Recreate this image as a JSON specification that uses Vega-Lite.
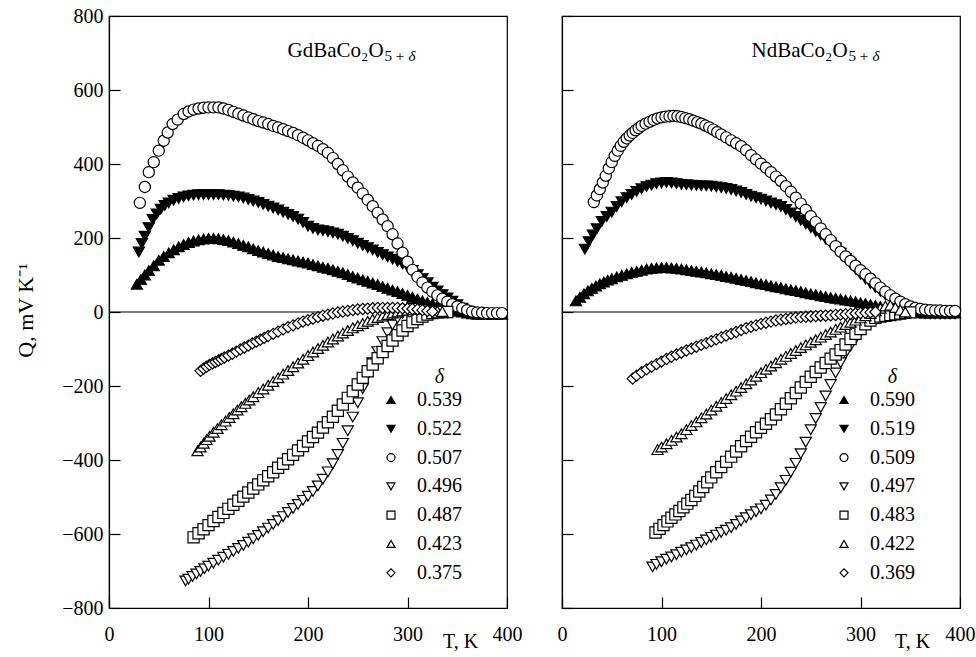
{
  "$schema": "https://vega.github.io/schema/vega-lite/v6.json",
  "background": "white",
  "padding": {"left": 13, "top": 5, "right": 5, "bottom": 5},
  "bounds": "flush",
  "spacing": 55,
  "config": {
    "font": "Liberation Serif",
    "view": {"stroke": "black", "strokeWidth": 1.2},
    "axis": {
      "grid": false, "domainColor": "black", "domainWidth": 1.2, "tickColor": "black", "tickWidth": 1.2, "tickSize": -11,
      "labelFont": "Liberation Serif", "labelFontSize": 20, "labelColor": "black", "labelFlush": false, "labelOverlap": false,
      "titleFont": "Liberation Serif", "titleFontSize": 20, "titleFontWeight": "normal", "titleColor": "black"
    },
    "axisX": {"labelPadding": 27},
    "axisY": {"labelPadding": 17},
    "legend": {
      "orient": "none", "legendX": 272, "legendY": 374, "title": null, "padding": 0,
      "labelFont": "Liberation Serif", "labelFontSize": 20, "labelColor": "black",
      "symbolStrokeWidth": 1.2, "symbolSize": 64, "rowPadding": 8.8, "labelOffset": 16
    }
  },
  "resolve": {"scale": {"shape": "independent", "fill": "independent", "stroke": "independent"}},
  "datasets": {
    "gd": [
      {"d":"0.539","T":28,"Q":75},{"d":"0.539","T":32,"Q":88},{"d":"0.539","T":36,"Q":100},{"d":"0.539","T":40,"Q":112},{"d":"0.539","T":45,"Q":125},{"d":"0.539","T":50,"Q":140},{"d":"0.539","T":55,"Q":150},{"d":"0.539","T":60,"Q":160},{"d":"0.539","T":65,"Q":168},{"d":"0.539","T":70,"Q":176},{"d":"0.539","T":75,"Q":182},{"d":"0.539","T":80,"Q":188},{"d":"0.539","T":85,"Q":192},{"d":"0.539","T":90,"Q":195},{"d":"0.539","T":95,"Q":197},{"d":"0.539","T":100,"Q":199},{"d":"0.539","T":105,"Q":199},{"d":"0.539","T":110,"Q":198},{"d":"0.539","T":115,"Q":196},{"d":"0.539","T":120,"Q":193},{"d":"0.539","T":125,"Q":189},{"d":"0.539","T":130,"Q":185},{"d":"0.539","T":135,"Q":180},{"d":"0.539","T":140,"Q":176},{"d":"0.539","T":145,"Q":171},{"d":"0.539","T":150,"Q":166},{"d":"0.539","T":155,"Q":162},{"d":"0.539","T":160,"Q":158},{"d":"0.539","T":165,"Q":154},{"d":"0.539","T":170,"Q":150},{"d":"0.539","T":175,"Q":147},{"d":"0.539","T":180,"Q":144},{"d":"0.539","T":185,"Q":141},{"d":"0.539","T":190,"Q":138},{"d":"0.539","T":195,"Q":135},{"d":"0.539","T":200,"Q":132},{"d":"0.539","T":205,"Q":128},{"d":"0.539","T":210,"Q":125},{"d":"0.539","T":215,"Q":121},{"d":"0.539","T":220,"Q":118},{"d":"0.539","T":225,"Q":114},{"d":"0.539","T":230,"Q":110},{"d":"0.539","T":235,"Q":106},{"d":"0.539","T":240,"Q":101},{"d":"0.539","T":245,"Q":96},{"d":"0.539","T":250,"Q":92},{"d":"0.539","T":255,"Q":87},{"d":"0.539","T":260,"Q":83},{"d":"0.539","T":265,"Q":78},{"d":"0.539","T":270,"Q":74},{"d":"0.539","T":275,"Q":69},{"d":"0.539","T":280,"Q":64},{"d":"0.539","T":285,"Q":59},{"d":"0.539","T":290,"Q":55},{"d":"0.539","T":295,"Q":50},{"d":"0.539","T":300,"Q":45},{"d":"0.539","T":305,"Q":40},{"d":"0.539","T":310,"Q":35},{"d":"0.539","T":315,"Q":30},{"d":"0.539","T":320,"Q":26},{"d":"0.539","T":325,"Q":22},{"d":"0.539","T":330,"Q":17},{"d":"0.539","T":335,"Q":13},{"d":"0.539","T":340,"Q":9},{"d":"0.539","T":345,"Q":5},{"d":"0.539","T":350,"Q":2},{"d":"0.539","T":355,"Q":0},{"d":"0.539","T":360,"Q":-3},{"d":"0.539","T":365,"Q":-5},{"d":"0.539","T":370,"Q":-6},{"d":"0.539","T":375,"Q":-6},{"d":"0.539","T":380,"Q":-6},{"d":"0.539","T":385,"Q":-6},{"d":"0.539","T":390,"Q":-6},{"d":"0.539","T":395,"Q":-6},
      {"d":"0.522","T":30,"Q":162},{"d":"0.522","T":33,"Q":185},{"d":"0.522","T":36,"Q":205},{"d":"0.522","T":40,"Q":228},{"d":"0.522","T":44,"Q":250},{"d":"0.522","T":48,"Q":265},{"d":"0.522","T":52,"Q":278},{"d":"0.522","T":56,"Q":288},{"d":"0.522","T":60,"Q":295},{"d":"0.522","T":65,"Q":302},{"d":"0.522","T":70,"Q":307},{"d":"0.522","T":75,"Q":311},{"d":"0.522","T":80,"Q":314},{"d":"0.522","T":85,"Q":316},{"d":"0.522","T":90,"Q":317},{"d":"0.522","T":95,"Q":317},{"d":"0.522","T":100,"Q":317},{"d":"0.522","T":105,"Q":317},{"d":"0.522","T":110,"Q":317},{"d":"0.522","T":115,"Q":316},{"d":"0.522","T":120,"Q":315},{"d":"0.522","T":125,"Q":313},{"d":"0.522","T":130,"Q":311},{"d":"0.522","T":135,"Q":308},{"d":"0.522","T":140,"Q":304},{"d":"0.522","T":145,"Q":300},{"d":"0.522","T":150,"Q":296},{"d":"0.522","T":155,"Q":291},{"d":"0.522","T":160,"Q":286},{"d":"0.522","T":165,"Q":281},{"d":"0.522","T":170,"Q":276},{"d":"0.522","T":175,"Q":270},{"d":"0.522","T":180,"Q":264},{"d":"0.522","T":185,"Q":258},{"d":"0.522","T":190,"Q":251},{"d":"0.522","T":195,"Q":242},{"d":"0.522","T":200,"Q":232},{"d":"0.522","T":205,"Q":226},{"d":"0.522","T":210,"Q":222},{"d":"0.522","T":215,"Q":220},{"d":"0.522","T":220,"Q":217},{"d":"0.522","T":225,"Q":214},{"d":"0.522","T":230,"Q":210},{"d":"0.522","T":235,"Q":205},{"d":"0.522","T":240,"Q":199},{"d":"0.522","T":245,"Q":193},{"d":"0.522","T":250,"Q":186},{"d":"0.522","T":255,"Q":180},{"d":"0.522","T":260,"Q":174},{"d":"0.522","T":265,"Q":168},{"d":"0.522","T":270,"Q":161},{"d":"0.522","T":275,"Q":155},{"d":"0.522","T":280,"Q":149},{"d":"0.522","T":285,"Q":143},{"d":"0.522","T":290,"Q":137},{"d":"0.522","T":295,"Q":130},{"d":"0.522","T":300,"Q":122},{"d":"0.522","T":305,"Q":112},{"d":"0.522","T":310,"Q":101},{"d":"0.522","T":315,"Q":90},{"d":"0.522","T":320,"Q":79},{"d":"0.522","T":325,"Q":67},{"d":"0.522","T":330,"Q":57},{"d":"0.522","T":335,"Q":47},{"d":"0.522","T":340,"Q":38},{"d":"0.522","T":345,"Q":29},{"d":"0.522","T":350,"Q":20},{"d":"0.522","T":355,"Q":10},{"d":"0.522","T":360,"Q":2},{"d":"0.522","T":365,"Q":-4},
      {"d":"0.507","T":31,"Q":295},{"d":"0.507","T":36,"Q":338},{"d":"0.507","T":40,"Q":378},{"d":"0.507","T":45,"Q":405},{"d":"0.507","T":50,"Q":436},{"d":"0.507","T":55,"Q":463},{"d":"0.507","T":59,"Q":485},{"d":"0.507","T":64,"Q":508},{"d":"0.507","T":69,"Q":520},{"d":"0.507","T":75,"Q":535},{"d":"0.507","T":80,"Q":542},{"d":"0.507","T":85,"Q":547},{"d":"0.507","T":90,"Q":550},{"d":"0.507","T":95,"Q":552},{"d":"0.507","T":100,"Q":553},{"d":"0.507","T":105,"Q":553},{"d":"0.507","T":110,"Q":553},{"d":"0.507","T":115,"Q":550},{"d":"0.507","T":120,"Q":546},{"d":"0.507","T":125,"Q":541},{"d":"0.507","T":130,"Q":536},{"d":"0.507","T":135,"Q":531},{"d":"0.507","T":140,"Q":526},{"d":"0.507","T":145,"Q":521},{"d":"0.507","T":150,"Q":516},{"d":"0.507","T":155,"Q":512},{"d":"0.507","T":160,"Q":508},{"d":"0.507","T":165,"Q":503},{"d":"0.507","T":170,"Q":499},{"d":"0.507","T":175,"Q":494},{"d":"0.507","T":180,"Q":489},{"d":"0.507","T":185,"Q":484},{"d":"0.507","T":190,"Q":478},{"d":"0.507","T":195,"Q":471},{"d":"0.507","T":200,"Q":464},{"d":"0.507","T":205,"Q":456},{"d":"0.507","T":210,"Q":449},{"d":"0.507","T":215,"Q":440},{"d":"0.507","T":220,"Q":430},{"d":"0.507","T":225,"Q":416},{"d":"0.507","T":230,"Q":400},{"d":"0.507","T":235,"Q":383},{"d":"0.507","T":240,"Q":366},{"d":"0.507","T":245,"Q":350},{"d":"0.507","T":250,"Q":336},{"d":"0.507","T":255,"Q":320},{"d":"0.507","T":260,"Q":303},{"d":"0.507","T":265,"Q":286},{"d":"0.507","T":270,"Q":268},{"d":"0.507","T":275,"Q":250},{"d":"0.507","T":280,"Q":232},{"d":"0.507","T":285,"Q":210},{"d":"0.507","T":290,"Q":185},{"d":"0.507","T":295,"Q":160},{"d":"0.507","T":300,"Q":136},{"d":"0.507","T":305,"Q":114},{"d":"0.507","T":310,"Q":95},{"d":"0.507","T":315,"Q":80},{"d":"0.507","T":320,"Q":66},{"d":"0.507","T":325,"Q":55},{"d":"0.507","T":330,"Q":45},{"d":"0.507","T":335,"Q":36},{"d":"0.507","T":340,"Q":28},{"d":"0.507","T":345,"Q":21},{"d":"0.507","T":350,"Q":15},{"d":"0.507","T":355,"Q":10},{"d":"0.507","T":360,"Q":5},{"d":"0.507","T":365,"Q":1},{"d":"0.507","T":370,"Q":-1},{"d":"0.507","T":375,"Q":-2},{"d":"0.507","T":380,"Q":-3},{"d":"0.507","T":385,"Q":-3},{"d":"0.507","T":390,"Q":-3},{"d":"0.507","T":395,"Q":-3},
      {"d":"0.496","T":77,"Q":-727},{"d":"0.496","T":80,"Q":-722},{"d":"0.496","T":84,"Q":-715},{"d":"0.496","T":88,"Q":-708},{"d":"0.496","T":92,"Q":-701},{"d":"0.496","T":96,"Q":-694},{"d":"0.496","T":100,"Q":-687},{"d":"0.496","T":105,"Q":-679},{"d":"0.496","T":110,"Q":-671},{"d":"0.496","T":115,"Q":-663},{"d":"0.496","T":120,"Q":-655},{"d":"0.496","T":125,"Q":-647},{"d":"0.496","T":130,"Q":-639},{"d":"0.496","T":135,"Q":-631},{"d":"0.496","T":140,"Q":-622},{"d":"0.496","T":145,"Q":-613},{"d":"0.496","T":150,"Q":-604},{"d":"0.496","T":155,"Q":-594},{"d":"0.496","T":160,"Q":-584},{"d":"0.496","T":165,"Q":-574},{"d":"0.496","T":170,"Q":-564},{"d":"0.496","T":175,"Q":-553},{"d":"0.496","T":180,"Q":-542},{"d":"0.496","T":185,"Q":-531},{"d":"0.496","T":190,"Q":-520},{"d":"0.496","T":195,"Q":-509},{"d":"0.496","T":200,"Q":-498},{"d":"0.496","T":205,"Q":-485},{"d":"0.496","T":210,"Q":-470},{"d":"0.496","T":215,"Q":-452},{"d":"0.496","T":220,"Q":-432},{"d":"0.496","T":225,"Q":-410},{"d":"0.496","T":230,"Q":-385},{"d":"0.496","T":235,"Q":-355},{"d":"0.496","T":240,"Q":-321},{"d":"0.496","T":245,"Q":-284},{"d":"0.496","T":250,"Q":-245},{"d":"0.496","T":255,"Q":-207},{"d":"0.496","T":260,"Q":-170},{"d":"0.496","T":265,"Q":-137},{"d":"0.496","T":270,"Q":-107},{"d":"0.496","T":275,"Q":-80},{"d":"0.496","T":280,"Q":-56},{"d":"0.496","T":285,"Q":-35},{"d":"0.496","T":290,"Q":-17},{"d":"0.496","T":295,"Q":-3},{"d":"0.496","T":300,"Q":6},{"d":"0.496","T":305,"Q":10},{"d":"0.496","T":310,"Q":10},{"d":"0.496","T":315,"Q":7},{"d":"0.496","T":320,"Q":3},
      {"d":"0.487","T":85,"Q":-609},{"d":"0.487","T":90,"Q":-598},{"d":"0.487","T":95,"Q":-587},{"d":"0.487","T":100,"Q":-576},{"d":"0.487","T":105,"Q":-565},{"d":"0.487","T":110,"Q":-554},{"d":"0.487","T":115,"Q":-543},{"d":"0.487","T":120,"Q":-532},{"d":"0.487","T":125,"Q":-521},{"d":"0.487","T":130,"Q":-510},{"d":"0.487","T":135,"Q":-499},{"d":"0.487","T":140,"Q":-488},{"d":"0.487","T":145,"Q":-477},{"d":"0.487","T":150,"Q":-466},{"d":"0.487","T":155,"Q":-455},{"d":"0.487","T":160,"Q":-444},{"d":"0.487","T":165,"Q":-433},{"d":"0.487","T":170,"Q":-421},{"d":"0.487","T":175,"Q":-410},{"d":"0.487","T":180,"Q":-398},{"d":"0.487","T":185,"Q":-386},{"d":"0.487","T":190,"Q":-374},{"d":"0.487","T":195,"Q":-362},{"d":"0.487","T":200,"Q":-350},{"d":"0.487","T":205,"Q":-338},{"d":"0.487","T":210,"Q":-326},{"d":"0.487","T":215,"Q":-312},{"d":"0.487","T":220,"Q":-298},{"d":"0.487","T":225,"Q":-283},{"d":"0.487","T":230,"Q":-267},{"d":"0.487","T":235,"Q":-250},{"d":"0.487","T":240,"Q":-232},{"d":"0.487","T":245,"Q":-214},{"d":"0.487","T":250,"Q":-196},{"d":"0.487","T":255,"Q":-178},{"d":"0.487","T":260,"Q":-160},{"d":"0.487","T":265,"Q":-142},{"d":"0.487","T":270,"Q":-125},{"d":"0.487","T":275,"Q":-108},{"d":"0.487","T":280,"Q":-92},{"d":"0.487","T":285,"Q":-77},{"d":"0.487","T":290,"Q":-63},{"d":"0.487","T":295,"Q":-50},{"d":"0.487","T":300,"Q":-38},{"d":"0.487","T":305,"Q":-28},{"d":"0.487","T":310,"Q":-19},{"d":"0.487","T":315,"Q":-12},{"d":"0.487","T":320,"Q":-7},{"d":"0.487","T":325,"Q":-3},{"d":"0.487","T":330,"Q":-1},{"d":"0.487","T":335,"Q":0},{"d":"0.487","T":340,"Q":0},
      {"d":"0.423","T":89,"Q":-375},{"d":"0.423","T":92,"Q":-365},{"d":"0.423","T":95,"Q":-355},{"d":"0.423","T":98,"Q":-345},{"d":"0.423","T":101,"Q":-336},{"d":"0.423","T":105,"Q":-325},{"d":"0.423","T":109,"Q":-315},{"d":"0.423","T":113,"Q":-305},{"d":"0.423","T":117,"Q":-295},{"d":"0.423","T":121,"Q":-285},{"d":"0.423","T":125,"Q":-275},{"d":"0.423","T":129,"Q":-265},{"d":"0.423","T":133,"Q":-256},{"d":"0.423","T":137,"Q":-247},{"d":"0.423","T":141,"Q":-238},{"d":"0.423","T":145,"Q":-229},{"d":"0.423","T":150,"Q":-218},{"d":"0.423","T":155,"Q":-208},{"d":"0.423","T":160,"Q":-198},{"d":"0.423","T":165,"Q":-188},{"d":"0.423","T":170,"Q":-178},{"d":"0.423","T":175,"Q":-168},{"d":"0.423","T":180,"Q":-158},{"d":"0.423","T":185,"Q":-148},{"d":"0.423","T":190,"Q":-138},{"d":"0.423","T":195,"Q":-128},{"d":"0.423","T":200,"Q":-118},{"d":"0.423","T":205,"Q":-108},{"d":"0.423","T":210,"Q":-99},{"d":"0.423","T":215,"Q":-90},{"d":"0.423","T":220,"Q":-81},{"d":"0.423","T":225,"Q":-73},{"d":"0.423","T":230,"Q":-65},{"d":"0.423","T":235,"Q":-57},{"d":"0.423","T":240,"Q":-50},{"d":"0.423","T":245,"Q":-43},{"d":"0.423","T":250,"Q":-37},{"d":"0.423","T":255,"Q":-31},{"d":"0.423","T":260,"Q":-25},{"d":"0.423","T":265,"Q":-20},{"d":"0.423","T":270,"Q":-15},{"d":"0.423","T":275,"Q":-11},{"d":"0.423","T":280,"Q":-7},{"d":"0.423","T":285,"Q":-3},{"d":"0.423","T":290,"Q":0},{"d":"0.423","T":295,"Q":3},{"d":"0.423","T":300,"Q":5},{"d":"0.423","T":305,"Q":7},{"d":"0.423","T":310,"Q":8},{"d":"0.423","T":315,"Q":8},{"d":"0.423","T":320,"Q":7},{"d":"0.423","T":325,"Q":5},{"d":"0.423","T":330,"Q":3},{"d":"0.423","T":335,"Q":1},
      {"d":"0.375","T":92,"Q":-159},{"d":"0.375","T":95,"Q":-153},{"d":"0.375","T":98,"Q":-148},{"d":"0.375","T":101,"Q":-143},{"d":"0.375","T":104,"Q":-139},{"d":"0.375","T":107,"Q":-135},{"d":"0.375","T":110,"Q":-131},{"d":"0.375","T":113,"Q":-127},{"d":"0.375","T":116,"Q":-123},{"d":"0.375","T":120,"Q":-118},{"d":"0.375","T":124,"Q":-113},{"d":"0.375","T":128,"Q":-107},{"d":"0.375","T":132,"Q":-101},{"d":"0.375","T":136,"Q":-96},{"d":"0.375","T":140,"Q":-91},{"d":"0.375","T":144,"Q":-85},{"d":"0.375","T":148,"Q":-80},{"d":"0.375","T":152,"Q":-75},{"d":"0.375","T":156,"Q":-70},{"d":"0.375","T":160,"Q":-65},{"d":"0.375","T":165,"Q":-59},{"d":"0.375","T":170,"Q":-53},{"d":"0.375","T":175,"Q":-47},{"d":"0.375","T":180,"Q":-41},{"d":"0.375","T":185,"Q":-36},{"d":"0.375","T":190,"Q":-31},{"d":"0.375","T":195,"Q":-26},{"d":"0.375","T":200,"Q":-22},{"d":"0.375","T":205,"Q":-18},{"d":"0.375","T":210,"Q":-14},{"d":"0.375","T":215,"Q":-10},{"d":"0.375","T":220,"Q":-7},{"d":"0.375","T":225,"Q":-4},{"d":"0.375","T":230,"Q":-1},{"d":"0.375","T":235,"Q":1},{"d":"0.375","T":240,"Q":3},{"d":"0.375","T":245,"Q":5},{"d":"0.375","T":250,"Q":7},{"d":"0.375","T":255,"Q":8},{"d":"0.375","T":260,"Q":9},{"d":"0.375","T":265,"Q":10},{"d":"0.375","T":270,"Q":11},{"d":"0.375","T":275,"Q":11},{"d":"0.375","T":280,"Q":11},{"d":"0.375","T":285,"Q":11},{"d":"0.375","T":290,"Q":11},{"d":"0.375","T":295,"Q":10},{"d":"0.375","T":300,"Q":9},{"d":"0.375","T":305,"Q":8},{"d":"0.375","T":310,"Q":7},{"d":"0.375","T":315,"Q":5},{"d":"0.375","T":320,"Q":3},{"d":"0.375","T":325,"Q":1}
    ],
    "nd": [
      {"d":"0.590","T":14,"Q":30},{"d":"0.590","T":18,"Q":40},{"d":"0.590","T":22,"Q":49},{"d":"0.590","T":26,"Q":57},{"d":"0.590","T":30,"Q":64},{"d":"0.590","T":34,"Q":70},{"d":"0.590","T":38,"Q":76},{"d":"0.590","T":42,"Q":81},{"d":"0.590","T":46,"Q":86},{"d":"0.590","T":50,"Q":90},{"d":"0.590","T":55,"Q":95},{"d":"0.590","T":60,"Q":99},{"d":"0.590","T":65,"Q":103},{"d":"0.590","T":70,"Q":107},{"d":"0.590","T":75,"Q":110},{"d":"0.590","T":80,"Q":113},{"d":"0.590","T":85,"Q":116},{"d":"0.590","T":90,"Q":118},{"d":"0.590","T":95,"Q":119},{"d":"0.590","T":100,"Q":120},{"d":"0.590","T":105,"Q":120},{"d":"0.590","T":110,"Q":119},{"d":"0.590","T":115,"Q":118},{"d":"0.590","T":120,"Q":116},{"d":"0.590","T":125,"Q":114},{"d":"0.590","T":130,"Q":112},{"d":"0.590","T":135,"Q":110},{"d":"0.590","T":140,"Q":108},{"d":"0.590","T":145,"Q":106},{"d":"0.590","T":150,"Q":103},{"d":"0.590","T":155,"Q":101},{"d":"0.590","T":160,"Q":99},{"d":"0.590","T":165,"Q":96},{"d":"0.590","T":170,"Q":94},{"d":"0.590","T":175,"Q":91},{"d":"0.590","T":180,"Q":88},{"d":"0.590","T":185,"Q":85},{"d":"0.590","T":190,"Q":82},{"d":"0.590","T":195,"Q":79},{"d":"0.590","T":200,"Q":76},{"d":"0.590","T":205,"Q":74},{"d":"0.590","T":210,"Q":71},{"d":"0.590","T":215,"Q":68},{"d":"0.590","T":220,"Q":66},{"d":"0.590","T":225,"Q":63},{"d":"0.590","T":230,"Q":60},{"d":"0.590","T":235,"Q":58},{"d":"0.590","T":240,"Q":55},{"d":"0.590","T":245,"Q":52},{"d":"0.590","T":250,"Q":49},{"d":"0.590","T":255,"Q":47},{"d":"0.590","T":260,"Q":44},{"d":"0.590","T":265,"Q":42},{"d":"0.590","T":270,"Q":39},{"d":"0.590","T":275,"Q":37},{"d":"0.590","T":280,"Q":35},{"d":"0.590","T":285,"Q":32},{"d":"0.590","T":290,"Q":30},{"d":"0.590","T":295,"Q":28},{"d":"0.590","T":300,"Q":25},{"d":"0.590","T":305,"Q":23},{"d":"0.590","T":310,"Q":20},{"d":"0.590","T":315,"Q":18},{"d":"0.590","T":320,"Q":15},{"d":"0.590","T":325,"Q":12},{"d":"0.590","T":330,"Q":10},{"d":"0.590","T":335,"Q":7},{"d":"0.590","T":340,"Q":5},{"d":"0.590","T":345,"Q":3},{"d":"0.590","T":350,"Q":1},{"d":"0.590","T":355,"Q":-1},{"d":"0.590","T":360,"Q":-2},{"d":"0.590","T":365,"Q":-3},{"d":"0.590","T":370,"Q":-3},{"d":"0.590","T":375,"Q":-3},{"d":"0.590","T":380,"Q":-3},{"d":"0.590","T":385,"Q":-3},{"d":"0.590","T":390,"Q":-3},{"d":"0.590","T":395,"Q":-3},
      {"d":"0.519","T":23,"Q":170},{"d":"0.519","T":27,"Q":190},{"d":"0.519","T":31,"Q":208},{"d":"0.519","T":35,"Q":225},{"d":"0.519","T":40,"Q":245},{"d":"0.519","T":45,"Q":258},{"d":"0.519","T":50,"Q":270},{"d":"0.519","T":55,"Q":285},{"d":"0.519","T":60,"Q":298},{"d":"0.519","T":65,"Q":309},{"d":"0.519","T":70,"Q":318},{"d":"0.519","T":75,"Q":326},{"d":"0.519","T":80,"Q":333},{"d":"0.519","T":85,"Q":339},{"d":"0.519","T":90,"Q":343},{"d":"0.519","T":95,"Q":347},{"d":"0.519","T":100,"Q":349},{"d":"0.519","T":105,"Q":350},{"d":"0.519","T":110,"Q":349},{"d":"0.519","T":115,"Q":347},{"d":"0.519","T":120,"Q":345},{"d":"0.519","T":125,"Q":344},{"d":"0.519","T":130,"Q":343},{"d":"0.519","T":135,"Q":342},{"d":"0.519","T":140,"Q":341},{"d":"0.519","T":145,"Q":341},{"d":"0.519","T":150,"Q":340},{"d":"0.519","T":155,"Q":338},{"d":"0.519","T":160,"Q":336},{"d":"0.519","T":165,"Q":334},{"d":"0.519","T":170,"Q":331},{"d":"0.519","T":175,"Q":327},{"d":"0.519","T":180,"Q":323},{"d":"0.519","T":185,"Q":318},{"d":"0.519","T":190,"Q":313},{"d":"0.519","T":195,"Q":309},{"d":"0.519","T":200,"Q":305},{"d":"0.519","T":205,"Q":300},{"d":"0.519","T":210,"Q":295},{"d":"0.519","T":215,"Q":290},{"d":"0.519","T":220,"Q":285},{"d":"0.519","T":225,"Q":277},{"d":"0.519","T":230,"Q":268},{"d":"0.519","T":235,"Q":258},{"d":"0.519","T":240,"Q":248},{"d":"0.519","T":245,"Q":238},{"d":"0.519","T":250,"Q":228},{"d":"0.519","T":255,"Q":218},{"d":"0.519","T":260,"Q":208},{"d":"0.519","T":265,"Q":197},{"d":"0.519","T":270,"Q":186},{"d":"0.519","T":275,"Q":173},{"d":"0.519","T":280,"Q":159},{"d":"0.519","T":285,"Q":145},{"d":"0.519","T":290,"Q":130},{"d":"0.519","T":295,"Q":116},{"d":"0.519","T":300,"Q":102},{"d":"0.519","T":305,"Q":89},{"d":"0.519","T":310,"Q":77},{"d":"0.519","T":315,"Q":66},{"d":"0.519","T":320,"Q":56},{"d":"0.519","T":325,"Q":46},{"d":"0.519","T":330,"Q":37},{"d":"0.519","T":335,"Q":28},{"d":"0.519","T":340,"Q":20},{"d":"0.519","T":345,"Q":12},{"d":"0.519","T":350,"Q":5},{"d":"0.519","T":355,"Q":0},{"d":"0.519","T":360,"Q":-3},{"d":"0.519","T":365,"Q":-4},{"d":"0.519","T":370,"Q":-5},{"d":"0.519","T":375,"Q":-5},{"d":"0.519","T":380,"Q":-5},{"d":"0.519","T":385,"Q":-5},{"d":"0.519","T":390,"Q":-5},{"d":"0.519","T":395,"Q":-5},
      {"d":"0.509","T":32,"Q":297},{"d":"0.509","T":35,"Q":315},{"d":"0.509","T":38,"Q":332},{"d":"0.509","T":41,"Q":350},{"d":"0.509","T":44,"Q":368},{"d":"0.509","T":47,"Q":388},{"d":"0.509","T":50,"Q":405},{"d":"0.509","T":53,"Q":422},{"d":"0.509","T":56,"Q":436},{"d":"0.509","T":59,"Q":449},{"d":"0.509","T":62,"Q":460},{"d":"0.509","T":65,"Q":469},{"d":"0.509","T":68,"Q":477},{"d":"0.509","T":71,"Q":484},{"d":"0.509","T":74,"Q":491},{"d":"0.509","T":77,"Q":497},{"d":"0.509","T":80,"Q":503},{"d":"0.509","T":84,"Q":509},{"d":"0.509","T":88,"Q":514},{"d":"0.509","T":92,"Q":519},{"d":"0.509","T":96,"Q":523},{"d":"0.509","T":100,"Q":526},{"d":"0.509","T":104,"Q":528},{"d":"0.509","T":108,"Q":529},{"d":"0.509","T":112,"Q":530},{"d":"0.509","T":116,"Q":529},{"d":"0.509","T":120,"Q":527},{"d":"0.509","T":124,"Q":524},{"d":"0.509","T":128,"Q":521},{"d":"0.509","T":132,"Q":517},{"d":"0.509","T":136,"Q":513},{"d":"0.509","T":140,"Q":509},{"d":"0.509","T":144,"Q":504},{"d":"0.509","T":148,"Q":499},{"d":"0.509","T":152,"Q":493},{"d":"0.509","T":156,"Q":486},{"d":"0.509","T":160,"Q":480},{"d":"0.509","T":165,"Q":472},{"d":"0.509","T":170,"Q":464},{"d":"0.509","T":175,"Q":456},{"d":"0.509","T":180,"Q":448},{"d":"0.509","T":185,"Q":437},{"d":"0.509","T":190,"Q":424},{"d":"0.509","T":195,"Q":412},{"d":"0.509","T":200,"Q":401},{"d":"0.509","T":205,"Q":390},{"d":"0.509","T":210,"Q":378},{"d":"0.509","T":215,"Q":366},{"d":"0.509","T":220,"Q":354},{"d":"0.509","T":225,"Q":340},{"d":"0.509","T":230,"Q":325},{"d":"0.509","T":235,"Q":309},{"d":"0.509","T":240,"Q":293},{"d":"0.509","T":245,"Q":276},{"d":"0.509","T":250,"Q":259},{"d":"0.509","T":255,"Q":243},{"d":"0.509","T":260,"Q":226},{"d":"0.509","T":265,"Q":210},{"d":"0.509","T":270,"Q":194},{"d":"0.509","T":275,"Q":178},{"d":"0.509","T":280,"Q":163},{"d":"0.509","T":285,"Q":150},{"d":"0.509","T":290,"Q":138},{"d":"0.509","T":295,"Q":125},{"d":"0.509","T":300,"Q":113},{"d":"0.509","T":305,"Q":102},{"d":"0.509","T":310,"Q":90},{"d":"0.509","T":315,"Q":78},{"d":"0.509","T":320,"Q":66},{"d":"0.509","T":325,"Q":55},{"d":"0.509","T":330,"Q":45},{"d":"0.509","T":335,"Q":36},{"d":"0.509","T":340,"Q":28},{"d":"0.509","T":345,"Q":21},{"d":"0.509","T":350,"Q":15},{"d":"0.509","T":355,"Q":11},{"d":"0.509","T":360,"Q":8},{"d":"0.509","T":365,"Q":6},{"d":"0.509","T":370,"Q":5},{"d":"0.509","T":375,"Q":4},{"d":"0.509","T":380,"Q":4},{"d":"0.509","T":385,"Q":3},{"d":"0.509","T":390,"Q":3},{"d":"0.509","T":395,"Q":3},
      {"d":"0.497","T":91,"Q":-689},{"d":"0.497","T":95,"Q":-682},{"d":"0.497","T":100,"Q":-675},{"d":"0.497","T":105,"Q":-668},{"d":"0.497","T":110,"Q":-662},{"d":"0.497","T":115,"Q":-656},{"d":"0.497","T":120,"Q":-649},{"d":"0.497","T":125,"Q":-643},{"d":"0.497","T":130,"Q":-637},{"d":"0.497","T":135,"Q":-630},{"d":"0.497","T":140,"Q":-623},{"d":"0.497","T":145,"Q":-616},{"d":"0.497","T":150,"Q":-609},{"d":"0.497","T":155,"Q":-603},{"d":"0.497","T":160,"Q":-596},{"d":"0.497","T":165,"Q":-590},{"d":"0.497","T":170,"Q":-583},{"d":"0.497","T":175,"Q":-574},{"d":"0.497","T":180,"Q":-565},{"d":"0.497","T":185,"Q":-556},{"d":"0.497","T":190,"Q":-548},{"d":"0.497","T":195,"Q":-540},{"d":"0.497","T":200,"Q":-532},{"d":"0.497","T":205,"Q":-522},{"d":"0.497","T":210,"Q":-508},{"d":"0.497","T":215,"Q":-493},{"d":"0.497","T":220,"Q":-475},{"d":"0.497","T":225,"Q":-455},{"d":"0.497","T":230,"Q":-433},{"d":"0.497","T":235,"Q":-409},{"d":"0.497","T":240,"Q":-383},{"d":"0.497","T":245,"Q":-352},{"d":"0.497","T":250,"Q":-318},{"d":"0.497","T":255,"Q":-288},{"d":"0.497","T":260,"Q":-258},{"d":"0.497","T":265,"Q":-227},{"d":"0.497","T":270,"Q":-196},{"d":"0.497","T":275,"Q":-165},{"d":"0.497","T":280,"Q":-137},{"d":"0.497","T":285,"Q":-112},{"d":"0.497","T":290,"Q":-92},{"d":"0.497","T":295,"Q":-73},{"d":"0.497","T":300,"Q":-55},{"d":"0.497","T":305,"Q":-37},{"d":"0.497","T":310,"Q":-22},{"d":"0.497","T":315,"Q":-11},{"d":"0.497","T":320,"Q":-4},{"d":"0.497","T":325,"Q":0},{"d":"0.497","T":330,"Q":2},
      {"d":"0.483","T":94,"Q":-596},{"d":"0.483","T":98,"Q":-586},{"d":"0.483","T":102,"Q":-576},{"d":"0.483","T":106,"Q":-566},{"d":"0.483","T":110,"Q":-556},{"d":"0.483","T":114,"Q":-547},{"d":"0.483","T":118,"Q":-538},{"d":"0.483","T":122,"Q":-528},{"d":"0.483","T":126,"Q":-518},{"d":"0.483","T":130,"Q":-508},{"d":"0.483","T":134,"Q":-497},{"d":"0.483","T":138,"Q":-485},{"d":"0.483","T":142,"Q":-473},{"d":"0.483","T":146,"Q":-460},{"d":"0.483","T":150,"Q":-447},{"d":"0.483","T":155,"Q":-433},{"d":"0.483","T":160,"Q":-419},{"d":"0.483","T":165,"Q":-405},{"d":"0.483","T":170,"Q":-391},{"d":"0.483","T":175,"Q":-377},{"d":"0.483","T":180,"Q":-363},{"d":"0.483","T":185,"Q":-349},{"d":"0.483","T":190,"Q":-337},{"d":"0.483","T":195,"Q":-325},{"d":"0.483","T":200,"Q":-313},{"d":"0.483","T":205,"Q":-302},{"d":"0.483","T":210,"Q":-290},{"d":"0.483","T":215,"Q":-277},{"d":"0.483","T":220,"Q":-263},{"d":"0.483","T":225,"Q":-248},{"d":"0.483","T":230,"Q":-233},{"d":"0.483","T":235,"Q":-219},{"d":"0.483","T":240,"Q":-204},{"d":"0.483","T":245,"Q":-189},{"d":"0.483","T":250,"Q":-175},{"d":"0.483","T":255,"Q":-162},{"d":"0.483","T":260,"Q":-150},{"d":"0.483","T":265,"Q":-138},{"d":"0.483","T":270,"Q":-126},{"d":"0.483","T":275,"Q":-115},{"d":"0.483","T":280,"Q":-103},{"d":"0.483","T":285,"Q":-88},{"d":"0.483","T":290,"Q":-73},{"d":"0.483","T":295,"Q":-59},{"d":"0.483","T":300,"Q":-46},{"d":"0.483","T":305,"Q":-33},{"d":"0.483","T":310,"Q":-23},{"d":"0.483","T":315,"Q":-16},{"d":"0.483","T":320,"Q":-12},{"d":"0.483","T":325,"Q":-10},{"d":"0.483","T":330,"Q":-8},{"d":"0.483","T":335,"Q":-6},{"d":"0.483","T":340,"Q":-4},{"d":"0.483","T":345,"Q":-2},{"d":"0.483","T":350,"Q":-1},
      {"d":"0.422","T":96,"Q":-372},{"d":"0.422","T":100,"Q":-365},{"d":"0.422","T":105,"Q":-356},{"d":"0.422","T":110,"Q":-347},{"d":"0.422","T":115,"Q":-338},{"d":"0.422","T":120,"Q":-329},{"d":"0.422","T":125,"Q":-318},{"d":"0.422","T":130,"Q":-307},{"d":"0.422","T":135,"Q":-297},{"d":"0.422","T":140,"Q":-286},{"d":"0.422","T":145,"Q":-276},{"d":"0.422","T":150,"Q":-265},{"d":"0.422","T":155,"Q":-255},{"d":"0.422","T":160,"Q":-245},{"d":"0.422","T":165,"Q":-234},{"d":"0.422","T":170,"Q":-224},{"d":"0.422","T":175,"Q":-214},{"d":"0.422","T":180,"Q":-204},{"d":"0.422","T":185,"Q":-194},{"d":"0.422","T":190,"Q":-184},{"d":"0.422","T":195,"Q":-174},{"d":"0.422","T":200,"Q":-164},{"d":"0.422","T":205,"Q":-155},{"d":"0.422","T":210,"Q":-146},{"d":"0.422","T":215,"Q":-137},{"d":"0.422","T":220,"Q":-128},{"d":"0.422","T":225,"Q":-120},{"d":"0.422","T":230,"Q":-112},{"d":"0.422","T":235,"Q":-104},{"d":"0.422","T":240,"Q":-96},{"d":"0.422","T":245,"Q":-89},{"d":"0.422","T":250,"Q":-82},{"d":"0.422","T":255,"Q":-75},{"d":"0.422","T":260,"Q":-68},{"d":"0.422","T":265,"Q":-61},{"d":"0.422","T":270,"Q":-54},{"d":"0.422","T":275,"Q":-47},{"d":"0.422","T":280,"Q":-41},{"d":"0.422","T":285,"Q":-34},{"d":"0.422","T":290,"Q":-28},{"d":"0.422","T":295,"Q":-22},{"d":"0.422","T":300,"Q":-16},{"d":"0.422","T":305,"Q":-10},{"d":"0.422","T":310,"Q":-4},{"d":"0.422","T":315,"Q":3},{"d":"0.422","T":320,"Q":10},{"d":"0.422","T":325,"Q":16},{"d":"0.422","T":330,"Q":18},{"d":"0.422","T":335,"Q":12},{"d":"0.422","T":340,"Q":5},{"d":"0.422","T":345,"Q":0},
      {"d":"0.369","T":71,"Q":-180},{"d":"0.369","T":75,"Q":-172},{"d":"0.369","T":80,"Q":-163},{"d":"0.369","T":85,"Q":-155},{"d":"0.369","T":90,"Q":-148},{"d":"0.369","T":95,"Q":-141},{"d":"0.369","T":100,"Q":-134},{"d":"0.369","T":105,"Q":-127},{"d":"0.369","T":110,"Q":-121},{"d":"0.369","T":115,"Q":-115},{"d":"0.369","T":120,"Q":-110},{"d":"0.369","T":125,"Q":-104},{"d":"0.369","T":130,"Q":-99},{"d":"0.369","T":135,"Q":-94},{"d":"0.369","T":140,"Q":-89},{"d":"0.369","T":145,"Q":-84},{"d":"0.369","T":150,"Q":-79},{"d":"0.369","T":155,"Q":-74},{"d":"0.369","T":160,"Q":-69},{"d":"0.369","T":165,"Q":-64},{"d":"0.369","T":170,"Q":-59},{"d":"0.369","T":175,"Q":-54},{"d":"0.369","T":180,"Q":-49},{"d":"0.369","T":185,"Q":-44},{"d":"0.369","T":190,"Q":-40},{"d":"0.369","T":195,"Q":-36},{"d":"0.369","T":200,"Q":-32},{"d":"0.369","T":205,"Q":-29},{"d":"0.369","T":210,"Q":-26},{"d":"0.369","T":215,"Q":-23},{"d":"0.369","T":220,"Q":-21},{"d":"0.369","T":225,"Q":-19},{"d":"0.369","T":230,"Q":-17},{"d":"0.369","T":235,"Q":-15},{"d":"0.369","T":240,"Q":-14},{"d":"0.369","T":245,"Q":-13},{"d":"0.369","T":250,"Q":-12},{"d":"0.369","T":255,"Q":-11},{"d":"0.369","T":260,"Q":-10},{"d":"0.369","T":265,"Q":-10},{"d":"0.369","T":270,"Q":-9},{"d":"0.369","T":275,"Q":-8},{"d":"0.369","T":280,"Q":-7},{"d":"0.369","T":285,"Q":-6},{"d":"0.369","T":290,"Q":-5},{"d":"0.369","T":295,"Q":-4},{"d":"0.369","T":300,"Q":-3},{"d":"0.369","T":305,"Q":-2},{"d":"0.369","T":310,"Q":-1},{"d":"0.369","T":315,"Q":0}
    ]
  },
  "hconcat": [
    {
      "width": 398, "height": 592,
      "layer": [
        {"data": {"values": [{}]}, "mark": {"type": "rule", "color": "black", "strokeWidth": 1.2},
         "encoding": {"y": {"datum": 0, "type": "quantitative", "scale": {"domain": [-800, 800], "nice": false}}}},
        {"data": {"name": "gd"},
         "mark": {"type": "point", "filled": true, "strokeWidth": 1.2, "size": 125, "opacity": 1},
         "encoding": {
           "x": {"field": "T", "type": "quantitative", "scale": {"domain": [0, 400], "nice": false},
                 "axis": {"values": [0, 100, 200, 300, 400], "title": "T, K", "titleX": 351, "titleY": 39, "titleBaseline": "alphabetic", "titleAlign": "center"}},
           "y": {"field": "Q", "type": "quantitative", "scale": {"domain": [-800, 800], "nice": false},
                 "axis": {"values": [-800, -600, -400, -200, 0, 200, 400, 600, 800], "title": "Q, mV K⁻¹", "titleFontSize": 22, "titleX": -84, "titleY": 294, "titleBaseline": "middle", "titleAlign": "center"}},
           "shape": {"field": "d", "type": "nominal",
                     "scale": {"domain": ["0.539", "0.522", "0.507", "0.496", "0.487", "0.423", "0.375"], "range": ["triangle-up", "triangle-down", "circle", "triangle-down", "square", "triangle-up", "diamond"]}},
           "fill": {"field": "d", "type": "nominal",
                    "scale": {"domain": ["0.539", "0.522", "0.507", "0.496", "0.487", "0.423", "0.375"], "range": ["black", "black", "white", "white", "white", "white", "white"]}},
           "stroke": {"field": "d", "type": "nominal",
                    "scale": {"domain": ["0.539", "0.522", "0.507", "0.496", "0.487", "0.423", "0.375"], "range": ["black", "black", "black", "black", "black", "black", "black"]}}
         }},
        {"data": {"values": [{}]}, "mark": {"type": "text", "text": "GdBaCo₂O", "fontSize": 21, "align": "right", "baseline": "alphabetic", "color": "black"},
         "encoding": {"x": {"datum": 276}, "y": {"datum": 689}}},
        {"data": {"values": [{}]}, "mark": {"type": "text", "text": "5 +", "fontSize": 15, "align": "left", "baseline": "alphabetic", "dx": 1, "dy": 4, "color": "black"},
         "encoding": {"x": {"datum": 276}, "y": {"datum": 689}}},
        {"data": {"values": [{}]}, "mark": {"type": "text", "text": "δ", "fontSize": 15, "fontStyle": "italic", "align": "left", "baseline": "alphabetic", "dx": 25, "dy": 4, "color": "black"},
         "encoding": {"x": {"datum": 276}, "y": {"datum": 689}}},
        {"data": {"values": [{}]}, "mark": {"type": "text", "text": "δ", "fontSize": 20, "fontStyle": "italic", "align": "center", "baseline": "middle", "color": "black"},
         "encoding": {"x": {"datum": 332}, "y": {"datum": -176}}}
      ]
    },
    {
      "width": 398, "height": 592,
      "layer": [
        {"data": {"values": [{}]}, "mark": {"type": "rule", "color": "black", "strokeWidth": 1.2},
         "encoding": {"y": {"datum": 0, "type": "quantitative", "scale": {"domain": [-800, 800], "nice": false}}}},
        {"data": {"name": "nd"},
         "mark": {"type": "point", "filled": true, "strokeWidth": 1.2, "size": 125, "opacity": 1},
         "encoding": {
           "x": {"field": "T", "type": "quantitative", "scale": {"domain": [0, 400], "nice": false},
                 "axis": {"values": [0, 100, 200, 300, 400], "title": "T, K", "titleX": 350, "titleY": 39, "titleBaseline": "alphabetic", "titleAlign": "center"}},
           "y": {"field": "Q", "type": "quantitative", "scale": {"domain": [-800, 800], "nice": false},
                 "axis": {"values": [-800, -600, -400, -200, 0, 200, 400, 600, 800], "title": null, "labels": false}},
           "shape": {"field": "d", "type": "nominal",
                     "scale": {"domain": ["0.590", "0.519", "0.509", "0.497", "0.483", "0.422", "0.369"], "range": ["triangle-up", "triangle-down", "circle", "triangle-down", "square", "triangle-up", "diamond"]}},
           "fill": {"field": "d", "type": "nominal",
                    "scale": {"domain": ["0.590", "0.519", "0.509", "0.497", "0.483", "0.422", "0.369"], "range": ["black", "black", "white", "white", "white", "white", "white"]}},
           "stroke": {"field": "d", "type": "nominal",
                    "scale": {"domain": ["0.590", "0.519", "0.509", "0.497", "0.483", "0.422", "0.369"], "range": ["black", "black", "black", "black", "black", "black", "black"]}}
         }},
        {"data": {"values": [{}]}, "mark": {"type": "text", "text": "NdBaCo₂O", "fontSize": 21, "align": "right", "baseline": "alphabetic", "color": "black"},
         "encoding": {"x": {"datum": 287}, "y": {"datum": 689}}},
        {"data": {"values": [{}]}, "mark": {"type": "text", "text": "5 +", "fontSize": 15, "align": "left", "baseline": "alphabetic", "dx": 1, "dy": 4, "color": "black"},
         "encoding": {"x": {"datum": 287}, "y": {"datum": 689}}},
        {"data": {"values": [{}]}, "mark": {"type": "text", "text": "δ", "fontSize": 15, "fontStyle": "italic", "align": "left", "baseline": "alphabetic", "dx": 25, "dy": 4, "color": "black"},
         "encoding": {"x": {"datum": 287}, "y": {"datum": 689}}},
        {"data": {"values": [{}]}, "mark": {"type": "text", "text": "δ", "fontSize": 20, "fontStyle": "italic", "align": "center", "baseline": "middle", "color": "black"},
         "encoding": {"x": {"datum": 332}, "y": {"datum": -176}}}
      ]
    }
  ]
}
